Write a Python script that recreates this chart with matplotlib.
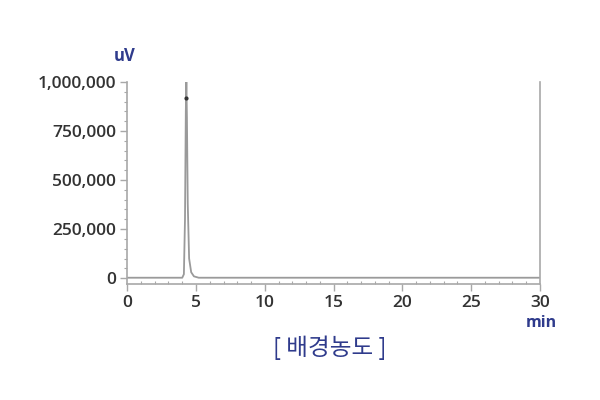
import numpy as np
import matplotlib.pyplot as plt
from matplotlib.ticker import MultipleLocator, FuncFormatter

plt.rcParams['font.family'] = ['Open Sans', 'Noto Sans CJK KR', 'DejaVu Sans']

# chromatogram trace (time in min, signal in uV)
times = [0, 4.0, 4.12, 4.2, 4.26, 4.3, 4.34, 4.4, 4.5, 4.65, 4.85, 5.2, 30]
signal = [2000, 2000, 20000, 300000, 850000, 1000000, 820000, 380000, 100000, 30000, 9000, 2000, 2000]
peak_mark = (4.28, 920000)

x_ticks = [0, 5, 10, 15, 20, 25, 30]
y_ticks = [0, 250000, 500000, 750000, 1000000]
title = '[ 배경농도 ]'
navy = '#2f3b8c'
grey = '#a8a8a8'
text_col = '#333333'

fig = plt.figure(figsize=(6, 4), dpi=100)
ax = fig.add_axes([0.212, 0.29, 0.688, 0.505])

ax.plot(times, signal, color='#9a9a9a', lw=1.3)
ax.plot(*peak_mark, marker='o', ms=2, color='#333333')

ax.set_xlim(0, 30)
ax.set_ylim(-30000, 1000000)
ax.set_xticks(x_ticks)
ax.set_yticks(y_ticks)
ax.xaxis.set_minor_locator(MultipleLocator(1))
ax.yaxis.set_minor_locator(MultipleLocator(50000))
ax.yaxis.set_major_formatter(FuncFormatter(lambda v, p: f'{int(v):,}'))

for s in ['left', 'right', 'bottom']:
    ax.spines[s].set_color(grey)
    ax.spines[s].set_linewidth(1.2)
ax.spines['top'].set_visible(False)

ax.tick_params(which='major', length=5, width=1, color=grey, labelsize=12.5,
               labelcolor=text_col, pad=3)
ax.tick_params(which='minor', length=2.5, width=0.8, color=grey)
ax.tick_params(axis='y', which='both', direction='out')
ax.tick_params(axis='x', which='minor', direction='in')
for lab in ax.get_xticklabels() + ax.get_yticklabels():
    lab.set_fontweight('semibold')

fig.text(0.19, 0.86, 'uV', color=navy, fontsize=12, fontweight='bold', ha='left', va='center')
fig.text(0.928, 0.193, 'min', color=navy, fontsize=11.5, fontweight='bold', ha='right', va='center')
fig.text(0.55, 0.13, title, family=['Noto Sans CJK KR', 'DejaVu Sans'], color=navy,
         fontsize=17, fontweight='medium', ha='center', va='center')

fig.savefig('out.png', dpi=100)
